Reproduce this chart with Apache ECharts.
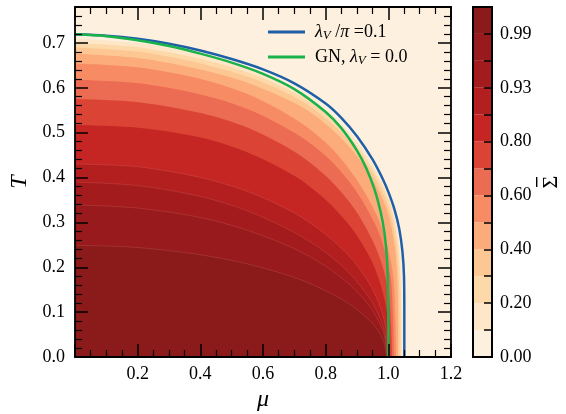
<!DOCTYPE html>
<html>
<head>
<meta charset="utf-8">
<script src="https://cdn.jsdelivr.net/npm/echarts@6/dist/echarts.min.js"></script>
<style>
  html, body { margin: 0; padding: 0; background: #fff; }
  #chart { width: 566px; height: 414px; }
</style>
</head>
<body>
<div id="chart"></div>
<script>
// contour levels of Sigma-bar (lambda_V / pi = 0.1), each as [mu, T] boundary
const levels = [0.1, 0.2, 0.3, 0.4, 0.5, 0.6, 0.7, 0.8, 0.87, 0.93, 0.96, 0.99]
const c010 = [[0, .710], [.209, .699], [.418, .671], [.575, .638], [.732, .586], [.836, .529], [.920, .463], [.982, .389], [1.014, .334], [1.035, .256], [1.042, .185], [1.045, .092], [1.045, 0]]
const c020 = [[0, .700], [.208, .690], [.416, .662], [.573, .629], [.729, .578], [.833, .522], [.916, .456], [.979, .384], [1.010, .329], [1.031, .252], [1.038, .182], [1.041, .091], [1.041, 0]]
const c030 = [[0, .690], [.207, .680], [.414, .652], [.570, .620], [.725, .570], [.829, .514], [.912, .450], [.974, .378], [1.005, .324], [1.026, .248], [1.033, .179], [1.036, .090], [1.036, 0]]
const c040 = [[0, .676], [.206, .666], [.412, .639], [.567, .607], [.722, .558], [.825, .504], [.907, .441], [.969, .370], [1.000, .318], [1.021, .243], [1.028, .176], [1.031, .088], [1.031, 0]]
const c050 = [[0, .654], [.205, .645], [.410, .618], [.564, .582], [.718, .523], [.820, .464], [.902, .392], [.964, .314], [.994, .255], [1.015, .183], [1.022, .090], [1.025, 0]]
const c060 = [[0, .618], [.204, .610], [.407, .584], [.560, .550], [.713, .494], [.814, .439], [.896, .371], [.957, .297], [.987, .241], [1.008, .173], [1.015, .085], [1.018, 0]]
const c070 = [[0, .575], [.202, .568], [.405, .543], [.557, .509], [.708, .454], [.810, .397], [.891, .331], [.951, .258], [.982, .201], [1.002, .136], [1.009, .065], [1.012, 0]]
const c080 = [[0, .517], [.201, .511], [.402, .489], [.553, .455], [.704, .402], [.805, .347], [.885, .285], [.946, .215], [.976, .160], [.996, .100], [1.003, .045], [1.006, 0]]
const c087 = [[0, .430], [.200, .424], [.400, .400], [.550, .369], [.700, .321], [.800, .273], [.880, .221], [.940, .163], [.970, .119], [.990, .072], [1.000, 0]]
const c093 = [[0, .390], [.200, .382], [.399, .358], [.549, .326], [.699, .278], [.798, .234], [.878, .185], [.938, .133], [.968, .095], [.988, .055], [.998, 0]]
const c096 = [[0, .339], [.199, .332], [.399, .311], [.548, .283], [.698, .242], [.798, .203], [.877, .161], [.937, .116], [.967, .082], [.987, .048], [.997, 0]]
const c099 = [[0, .249], [.199, .244], [.398, .228], [.547, .208], [.697, .178], [.796, .149], [.876, .118], [.935, .085], [.965, .061], [.985, .035], [.995, 0]]
const contours = [c010, c020, c030, c040, c050, c060, c070, c080, c087, c093, c096, c099]

// phase boundaries
const lambdaLine = [[0, .719], [.1, .716], [.2, .709], [.3, .698], [.4, .683], [.5, .664], [.6, .641], [.7, .610], [.8, .565], [.85, .533], [.9, .492], [.95, .440], [.98, .400], [1.0, .368], [1.02, .328], [1.035, .285], [1.045, .235], [1.05, .18], [1.051, .10], [1.051, 0]]
const gnLine = [[0, .719], [.1, .715], [.2, .706], [.3, .693], [.4, .676], [.5, .656], [.6, .631], [.7, .597], [.8, .546], [.85, .510], [.9, .460], [.93, .420], [.955, .375], [.975, .325], [.988, .275], [.996, .215], [.999, .15], [1.0, .08], [1.0, 0]]

// colour of each band, lowest (0.00-0.10) first
const bandColors = ['#fdf0df', '#fee7c9', '#fdd8a9', '#fdc793', '#fcab7a', '#f78b63', '#ec6b53', '#db4434', '#c52623', '#b31e1f', '#a41b1d', '#981a1c', '#8b1a1a']
// colorbar tick labels at the band boundaries
const cbLabels = ['0.00', '', '0.20', '', '0.40', '', '0.60', '', '0.80', '', '0.93', '', '0.99', '']

const serif = "'Liberation Serif', 'DejaVu Serif', serif"
const chart = echarts.init(document.getElementById('chart'))

const frameAxis = (extra) => Object.assign({
  type: 'value',
  gridIndex: 0,
  z: 10,
  axisLine: { show: true, onZero: false, lineStyle: { color: '#000', width: 1.8 } },
  axisTick: { show: true, inside: true, length: 13, lineStyle: { color: '#000', width: 1.5 } },
  minorTick: { show: true, length: 7, lineStyle: { color: '#000', width: 1.2 } },
  splitLine: { show: false },
  axisLabel: { show: false },
}, extra)

const labelStyle = { color: '#000', fontFamily: serif, fontSize: 18 }

const series = contours.map((pts, i) => ({
  type: 'line',
  data: pts,
  xAxisIndex: 0,
  yAxisIndex: 0,
  symbol: 'none',
  smooth: 0.3,
  silent: true,
  z: 2,
  lineStyle: levels[i] > 0.85
    ? { color: 'rgba(255,200,180,0.18)', width: 0.8 }
    : { width: 0 },
  areaStyle: { color: bandColors[i + 1], opacity: 1 },
}))

series.push({
  name: 'lambda',
  type: 'line',
  data: lambdaLine,
  symbol: 'none',
  showSymbol: false,
  smooth: 0.3,
  z: 4,
  lineStyle: { color: '#1f5fa8', width: 2.5 },
  itemStyle: { color: '#1f5fa8' },
})
series.push({
  name: 'gn',
  type: 'line',
  data: gnLine,
  symbol: 'none',
  showSymbol: false,
  smooth: 0.3,
  z: 4,
  lineStyle: { color: '#1bb24a', width: 2.5 },
  itemStyle: { color: '#1bb24a' },
})

// colorbar
series.push({
  type: 'bar',
  xAxisIndex: 2,
  yAxisIndex: 2,
  barWidth: '100%',
  silent: true,
  data: bandColors.map((c) => ({ value: 1, itemStyle: { color: c } })),
})

const option = {
  animation: false,
  backgroundColor: '#fff',
  grid: [
    { left: 75, top: 7, width: 376, height: 350, outerBoundsMode: 'none', containLabel: false, show: true, backgroundColor: bandColors[0], borderWidth: 0 },
    { left: 473, top: 7, width: 19, height: 350, outerBoundsMode: 'none', containLabel: false, show: true, backgroundColor: 'transparent', borderColor: '#000', borderWidth: 2, z: 10 },
  ],
  legend: {
    data: [
      { name: 'lambda', icon: 'rect', itemStyle: { color: '#1f5fa8' } },
      { name: 'gn', icon: 'rect', itemStyle: { color: '#1bb24a' } },
    ],
    orient: 'vertical',
    left: 263,
    top: 17,
    itemWidth: 37,
    itemHeight: 3,
    itemGap: 5,
    textStyle: {
      padding: [0, 0, 0, 5],
      rich: {
        i: { fontFamily: serif, fontStyle: 'italic', fontSize: 18, color: '#000', lineHeight: 18 },
        n: { fontFamily: serif, fontSize: 18, color: '#000', lineHeight: 18 },
        s: { fontFamily: serif, fontStyle: 'italic', fontSize: 13, color: '#000', lineHeight: 12, padding: [7, 0, 0, 0] },
      },
    },
    formatter: (name) => name === 'lambda'
      ? '{i|λ}{s|V}{n| /}{i|π}{n| =0.1}'
      : '{n|GN, }{i|λ}{s|V}{n| = 0.0}',
  },
  xAxis: [
    frameAxis({
      position: 'bottom', min: 0, max: 1.2, interval: 0.2,
      minorTick: { show: true, splitNumber: 4, length: 7, lineStyle: { color: '#000', width: 1.2 } },
      axisLabel: Object.assign({ show: true, margin: 8, formatter: (v) => (v === 0 ? '' : v.toFixed(1)) }, labelStyle),
      name: 'μ', nameLocation: 'middle', nameGap: 31,
      nameTextStyle: { fontFamily: serif, fontStyle: 'italic', fontSize: 24, color: '#000' },
    }),
    frameAxis({
      position: 'top', min: 0, max: 1.2, interval: 0.2,
      minorTick: { show: true, splitNumber: 4, length: 7, lineStyle: { color: '#000', width: 1.2 } },
    }),
    { type: 'value', gridIndex: 1, min: 0, max: 1, show: false },
  ],
  yAxis: [
    frameAxis({
      position: 'left', min: 0, max: 0.78, interval: 0.1,
      minorTick: { show: true, splitNumber: 5, length: 7, lineStyle: { color: '#000', width: 1.2 } },
      axisLabel: Object.assign({
        show: true, margin: 10,
        formatter: (v) => (Math.abs(v * 10 - Math.round(v * 10)) < 1e-6 ? v.toFixed(1) : ''),
      }, labelStyle),
      name: 'T', nameLocation: 'middle', nameGap: 43, nameRotate: 90,
      nameTextStyle: { fontFamily: serif, fontStyle: 'italic', fontSize: 24, color: '#000' },
    }),
    frameAxis({
      position: 'right', min: 0, max: 0.78, interval: 0.1,
      minorTick: { show: true, splitNumber: 5, length: 7, lineStyle: { color: '#000', width: 1.2 } },
    }),
    { type: 'category', gridIndex: 1, data: bandColors.map((c, i) => String(i)), show: false },
    {
      type: 'value', gridIndex: 1, position: 'right', min: 0, max: 13, interval: 1, z: 11,
      axisLine: { show: false },
      axisTick: { show: true, inside: true, length: 8, lineStyle: { color: '#000', width: 1.5 } },
      splitLine: { show: false },
      axisLabel: Object.assign({ margin: 8, formatter: (v) => cbLabels[Math.round(v)] || '' }, labelStyle),
    },
  ],
  graphic: [
    {
      type: 'group',
      x: 551,
      y: 182,
      rotation: Math.PI / 2,
      children: [
        {
          type: 'text',
          style: { text: 'Σ', font: "22px 'Liberation Serif', serif", fill: '#000', align: 'center', verticalAlign: 'middle' },
        },
        {
          type: 'rect',
          shape: { x: -5, y: -15, width: 10, height: 1.4 },
          style: { fill: '#000' },
        },
      ],
    },
  ],
  series,
}

chart.setOption(option)
</script>
</body>
</html>
